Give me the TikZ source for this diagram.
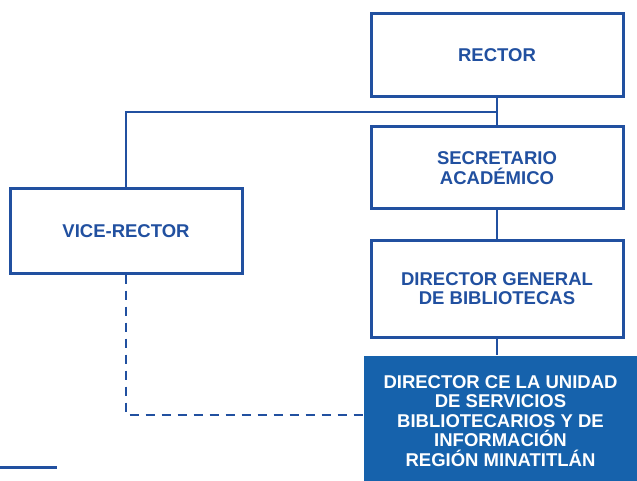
\documentclass[tikz,border=0pt]{standalone}
\usepackage{fontspec}
\setmainfont{Liberation Sans}
\usetikzlibrary{calc}

\definecolor{orgblue}{RGB}{33,80,160}
\definecolor{fillblue}{RGB}{22,98,172}

\begin{document}
\begin{tikzpicture}
  [
    x = 1pt, y = -1pt, line width = 3pt,
    every node/.style = {rectangle, align = center, font = \fontsize{18.5}{19.5}\selectfont\bfseries},
    office/.style = {draw = orgblue, text = orgblue, fill = white, minimum width = 252pt},
    unit/.style = {fill = fillblue, text = white, minimum width = 273pt, minimum height = 130pt, inner sep = 0pt},
    link/.style = {draw = orgblue, line width = 2.8pt},
    dashlink/.style = {link, dash pattern = on 9pt off 7pt}
  ]
  \useasboundingbox (0,0) rectangle (637,481);
  \fill[white] (0,0) rectangle (637,481);

  % offices
  \node [office, minimum height = 83pt] (Rector) at (497,55.5) {RECTOR};
  \node [office, minimum height = 82pt] (Secretario) at (497,168) {SECRETARIO\\ACADÉMICO};
  \node [office, minimum width = 232pt, minimum height = 84pt] (Vice) at (126,231) {VICE-RECTOR};
  \node [office, minimum height = 97pt] (General) at (497,288.5) {DIRECTOR GENERAL\\DE BIBLIOTECAS};
  \node [unit] (Unidad) at (500.5,421) {DIRECTOR CE LA UNIDAD\\DE SERVICIOS\\BIBLIOTECARIOS Y DE\\INFORMACIÓN\\REGIÓN MINATITLÁN};

  % lines of authority
  \coordinate (Split) at ($(Rector.south)!0.5!(Secretario.north)$);
  \draw [link] (Rector) -- (Secretario);
  \draw [link] (Split) -| (Vice.north);
  \draw [link] (Secretario) -- (General);
  \draw [link] (General.south) -- (General.south |- Unidad.north);
  \coordinate (Corner) at (Vice.south |- 0,415);
  \draw [dashlink] (Vice.south) -- (Corner) -- (Corner -| Unidad.west);

  % short rule bottom left
  \coordinate (RuleA) at (0,467);
  \coordinate (RuleB) at (57,467);
  \draw [link, line width = 3pt] (RuleA) -- (RuleB);
\end{tikzpicture}
\end{document}
